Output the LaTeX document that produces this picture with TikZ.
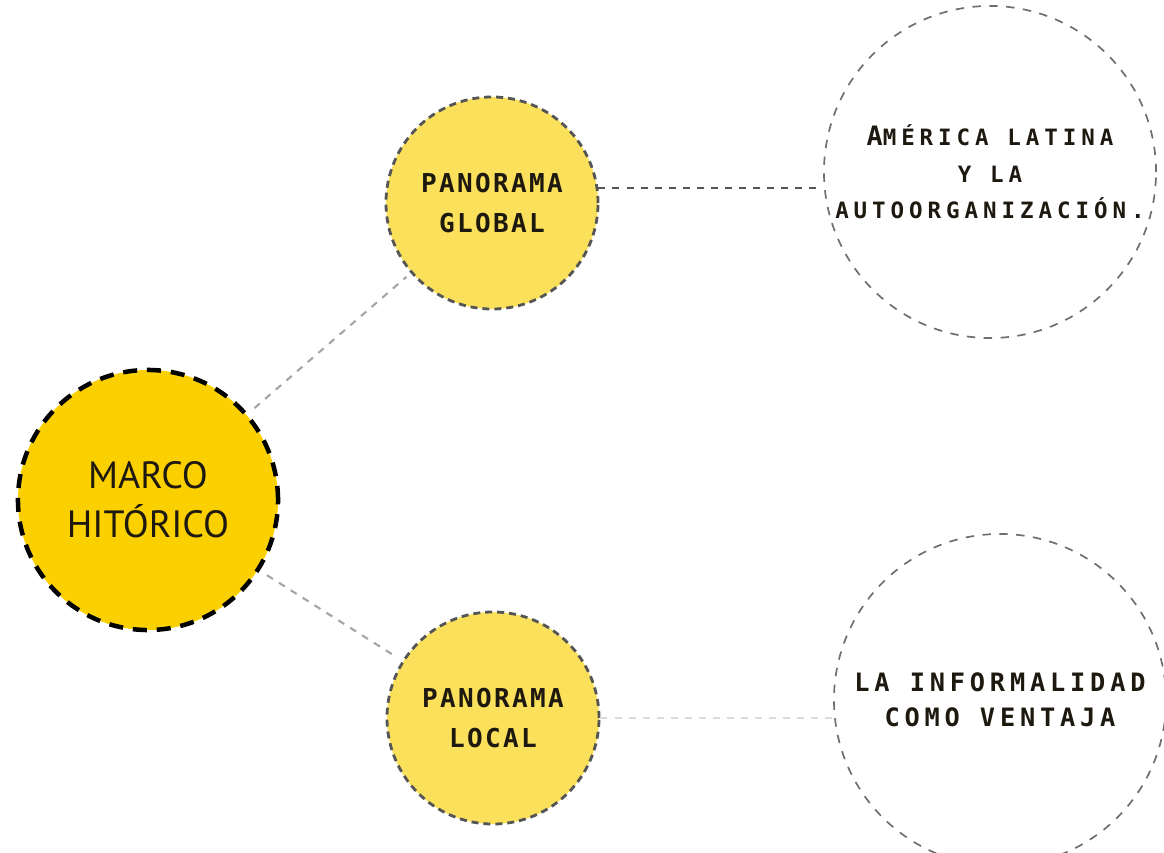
\documentclass[tikz,border=0pt]{standalone}
\usepackage{fontspec}
\setmainfont{PT Sans}
\newfontfamily\labelfont{DejaVu Sans Mono}
\usepackage{tikz}
\usetikzlibrary{positioning}
\definecolor{gold}{RGB}{250,208,0}
\definecolor{lightgold}{RGB}{251,224,92}
\definecolor{inkgray}{RGB}{85,85,85}
\definecolor{linkgray}{RGB}{165,165,165}
\definecolor{textdark}{RGB}{30,25,15}

\begin{document}
\begin{tikzpicture}[x=0.025cm, y=-0.025cm,
  mainnode/.style={circle, draw=black, line width=3.2pt, dash pattern=on 10pt off 7pt, fill=gold, minimum size=6.5cm, align=center, text=textdark, font=\fontsize{27}{35}\selectfont},
  subnode/.style={circle, draw=inkgray, line width=2pt, dash pattern=on 5pt off 3.5pt, fill=lightgold, minimum size=5.3cm, align=center, text=textdark, font=\labelfont\bfseries\addfontfeature{LetterSpace=9}\fontsize{18.5}{28}\selectfont},
  topicnode/.style={circle, draw=inkgray!85, line width=1.2pt, dash pattern=on 6pt off 6pt, minimum size=8.3cm, inner sep=0pt, align=center, text=textdark, font=\labelfont\bfseries\addfontfeature{LetterSpace=22}\fontsize{16}{26}\selectfont},
  link/.style={draw=linkgray, line width=1.5pt, dash pattern=on 5pt off 5pt}]
  \useasboundingbox (0,0) rectangle (1164,853);
  \node[mainnode] (marco) at (148,500) {MARCO\\HITÓRICO};
  \node[subnode] (global) at (492,203) {PANORAMA\\GLOBAL};
  \node[subnode] (local) at (493,718) {PANORAMA\\LOCAL};
  \node[topicnode] (america) at (990,172) {{\fontsize{19}{26}\selectfont A}MÉRICA LATINA\\Y LA\\AUTOORGANIZACIÓN.};
  \node[topicnode, font=\labelfont\bfseries\addfontfeature{LetterSpace=19}\fontsize{18}{25}\selectfont] (informal) at (1000,700) {LA INFORMALIDAD\\COMO VENTAJA};
  \foreach \t in {global,local} \draw[link, shorten <=6pt, shorten >=4pt] (marco) -- (\t);
  \draw[link, draw=inkgray] (global.8) -- (global.8 -| america.west);
  \draw[link, draw=linkgray!40] (local.east) -- (local.east -| informal.west);
\end{tikzpicture}
\end{document}
